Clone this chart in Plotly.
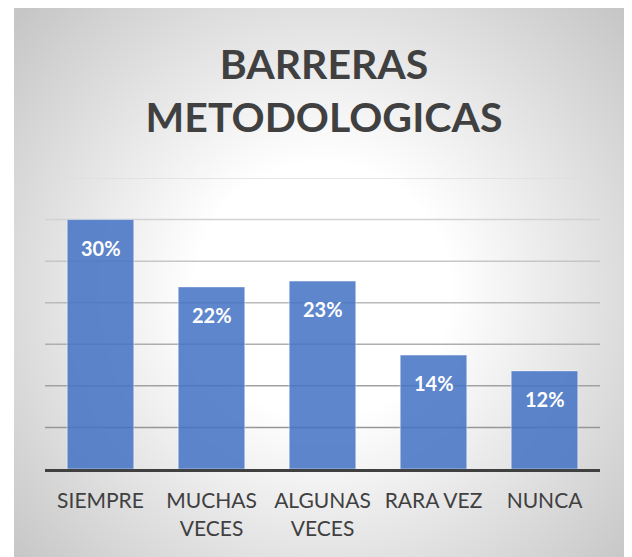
import base64, struct, zlib
import numpy as np
import plotly.graph_objects as go

# ---- data ----
categories = ["SIEMPRE", "MUCHAS<br>VECES", "ALGUNAS<br>VECES", "RARA VEZ", "NUNCA"]
values = [30.0, 21.9, 22.6, 13.7, 11.8]
grid_values = [5, 10, 15, 20, 25, 30, 35]
title_text = "BARRERAS<br>METODOLOGICAS"

# ---- figure geometry (page has an 8px body margin) ----
W, H = 632, 557
ML, MR, MT, MB = 37, 40, 170, 96
PW, PH = W - ML - MR, H - MT - MB

# ---- radial gradient background (style only) ----
bx0, by0, bx1, by1 = 6, 0, 623, 552
bw, bh = bx1 - bx0, by1 - by0
yy, xx = np.mgrid[0:bh, 0:bw]
cx, cy = 314 - bx0, 282 - by0
d = np.sqrt((xx - cx) ** 2 + (yy - cy) ** 2)
t = np.clip((d - 130) / (413 - 130), 0, 1)
img = (255 - (255 - 198) * t).astype(np.uint8)

def to_png(a):
    h, w = a.shape
    raw = b"".join(b"\x00" + a[i].tobytes() for i in range(h))
    def chunk(tag, data):
        c = tag + data
        return struct.pack(">I", len(data)) + c + struct.pack(">I", zlib.crc32(c) & 0xFFFFFFFF)
    return (b"\x89PNG\r\n\x1a\n" + chunk(b"IHDR", struct.pack(">IIBBBBB", w, h, 8, 0, 0, 0, 0))
            + chunk(b"IDAT", zlib.compress(raw, 9)) + chunk(b"IEND", b""))

src = "data:image/png;base64," + base64.b64encode(to_png(img)).decode()

fig = go.Figure()
fig.add_trace(go.Bar(
    x=categories, y=values,
    marker=dict(color="rgba(68,114,196,0.86)", line=dict(color="rgba(255,255,255,0.45)", width=1)),
    hoverinfo="skip",
))

# value labels inside bars
for c, v in zip(categories, values):
    fig.add_annotation(x=c, y=v, text=f"{round(v)}%", showarrow=False, yanchor="middle", yshift=-28,
                       font=dict(family="Lato", size=20, color="white", weight="bold"))

# gridlines with slight vertical tone variation
for g in grid_values:
    f = (g - 5) / 30
    shade = int(150 + (222 - 150) * f)
    fig.add_shape(type="line", xref="paper", x0=0, x1=1, yref="y", y0=g, y1=g,
                  line=dict(color=f"rgb({shade},{shade},{shade})", width=1.5), layer="below")

fig.add_layout_image(dict(
    source=src, xref="paper", yref="paper",
    x=(bx0 - ML) / PW, y=(H - MB - by0) / PH,
    sizex=bw / PW, sizey=bh / PH,
    xanchor="left", yanchor="top", sizing="stretch", layer="below",
))

fig.update_layout(
    width=W, height=H,
    margin=dict(l=ML, r=MR, t=MT, b=MB),
    paper_bgcolor="white", plot_bgcolor="rgba(0,0,0,0)",
    bargap=0.4, showlegend=False,
    title=dict(text=title_text, xref="container", yref="container", x=316 / W, xanchor="center",
               y=1 - 71 / H, yanchor="middle",
               font=dict(family="Lato", size=41, color="#404040", weight="bold")),
    xaxis=dict(showline=True, linecolor="#404040", linewidth=3, ticks="", showgrid=False,
               tickfont=dict(family="Lato", size=21, color="#404040"), range=[-0.5, 4.5],
               ticklabelstandoff=11, fixedrange=True),
    yaxis=dict(range=[0, 35], showgrid=False, showticklabels=False, zeroline=False, fixedrange=True),
)

fig.write_html("out.html")
